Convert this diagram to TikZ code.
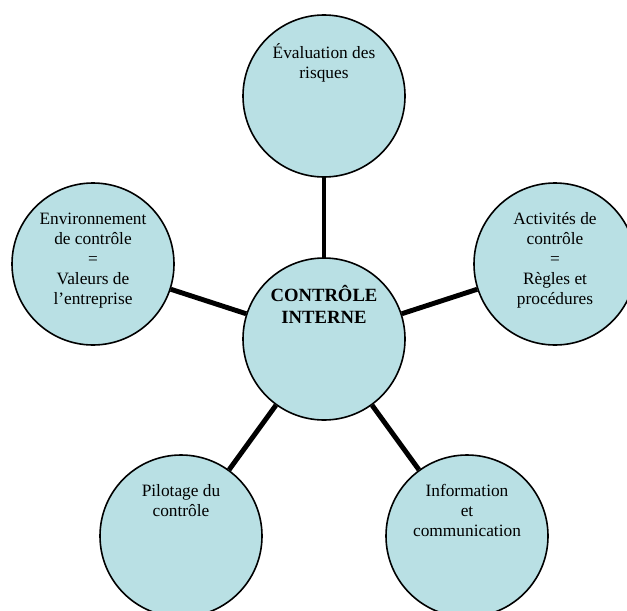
\documentclass[tikz,border=0pt]{standalone}
\usepackage{fontspec}
\setmainfont{Liberation Serif}
\definecolor{bleubulle}{RGB}{185,224,228}
\newcommand{\hautligne}{\rule{0pt}{14pt}}
\tikzset{
  bulle/.style={circle, draw, line width=1.2pt, fill=bleubulle, minimum size=121.5pt, inner sep=0pt},
  texte/.style={anchor=north, align=center, inner sep=0pt, font=\fontsize{13}{15}\selectfont,
    execute at begin node=\hautligne},
  lien/.style={line width=3.7pt}
}
\begin{document}
\begin{tikzpicture}[x=0.75pt,y=-0.75pt]
\useasboundingbox (0,0) rectangle (627,610);
% les bulles
\node[bulle] (interne) at (324,339) {};
\node[bulle] (risques) at (324,96) {};
\node[bulle] (activites) at (555,264) {};
\node[bulle] (environnement) at (93,264) {};
\node[bulle] (pilotage) at (181,536) {};
\node[bulle] (information) at (467,536) {};
% les liens
\draw[lien] (interne) -- (risques);
\draw[lien] (interne) -- (activites);
\draw[lien] (interne) -- (environnement);
\draw[lien] (interne) -- (pilotage);
\draw[lien] (interne) -- (information);
% les textes
\node[texte, font=\bfseries\fontsize{14}{16.5}\selectfont] (internetxt) at (324,285) {CONTRÔLE\\INTERNE};
\node[texte] (risquestxt) at (324,43.5) {Évaluation des\\risques};
\node[texte] (activitestxt) at (555,212.5) {Activités de\\contrôle\\=\\Règles et\\procédures};
\node[texte] (environnementtxt) at (93,212.5) {Environnement\\de contrôle\\=\\Valeurs de\\l’entreprise};
\node[texte] (pilotagetxt) at (181,484.5) {Pilotage du\\contrôle};
\node[texte] (informationtxt) at (467,484.5) {Information\\et\\communication};
\end{tikzpicture}
\end{document}
